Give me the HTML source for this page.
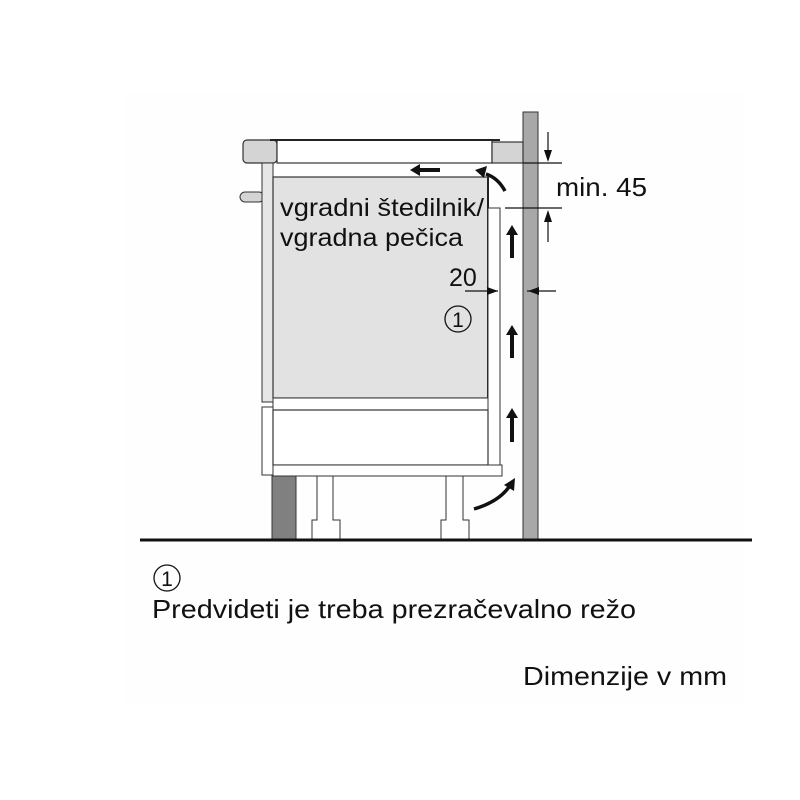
<!DOCTYPE html>
<html><head><style>body{margin:0;background:#fff}svg{display:block}</style></head><body>
<svg width="800" height="800" viewBox="0 0 800 800" xmlns="http://www.w3.org/2000/svg" font-family="Liberation Sans, Arial, sans-serif">
<rect x="125" y="92" width="620" height="610" fill="#fefefe"/>
<!-- wall -->
<rect x="523" y="112" width="15" height="428" fill="#a8a8a8" stroke="#333" stroke-width="1"/>
<!-- countertop -->
<rect x="243" y="140" width="34" height="23" rx="4" fill="#d4d4d4" stroke="#333" stroke-width="1.2"/>
<rect x="277" y="140" width="215" height="23" fill="#fff" stroke="#333" stroke-width="1.2"/>
<line x1="270" y1="140" x2="500" y2="140" stroke="#222" stroke-width="2"/>
<rect x="492" y="142" width="31" height="21" fill="#d4d4d4" stroke="#333" stroke-width="1.2"/>
<!-- knob -->
<rect x="240" y="192" width="24" height="10" rx="5" fill="#d4d4d4" stroke="#333" stroke-width="1"/>
<!-- side panels -->
<rect x="262" y="163" width="11" height="239" fill="#e6e6e6" stroke="#333" stroke-width="1"/>
<rect x="262" y="407" width="11" height="68" fill="#fff" stroke="#333" stroke-width="1"/>
<!-- oven -->
<rect x="273" y="177" width="215" height="221" fill="#e2e2e2" stroke="#333" stroke-width="1.2"/>
<line x1="488" y1="177" x2="488" y2="465" stroke="#222" stroke-width="2"/>
<!-- right strip -->
<rect x="488" y="208" width="12" height="257" fill="#fff" stroke="#333" stroke-width="1"/>
<!-- drawer -->
<rect x="273" y="398" width="215" height="12" fill="#fff" stroke="#333" stroke-width="1"/>
<rect x="273" y="410" width="215" height="55" fill="#fff" stroke="#333" stroke-width="1.2"/>
<rect x="273" y="465" width="229" height="11" fill="#fff" stroke="#333" stroke-width="1"/>
<!-- plinth -->
<rect x="272" y="476" width="24" height="64" fill="#808080" stroke="#333" stroke-width="1"/>
<!-- legs -->
<path d="M317 476V520H312V539H340V520H333V476Z" fill="#fff" stroke="#333" stroke-width="1"/>
<path d="M446 476V520H441V539H469V520H463V476Z" fill="#fff" stroke="#333" stroke-width="1"/>
<!-- floor -->
<line x1="140" y1="540" x2="752" y2="540" stroke="#111" stroke-width="3"/>
<!-- air arrows -->
<g fill="#111" stroke="none">
<path d="M420 168h20v4h-20v4l-10-6 10-6z"/>
<path d="M512 225l-6 10h4v23h4v-23h4z"/>
<path d="M512 325l-6 10h4v23h4v-23h4z"/>
<path d="M512 408l-6 10h4v24h4v-24h4z"/>
</g>
<path d="M505 191 Q498 178 486 174" fill="none" stroke="#111" stroke-width="3.5"/>
<path d="M475 170l12-4-3 12z" fill="#111"/>
<path d="M474 509 Q498 502 509 487" fill="none" stroke="#111" stroke-width="3.5"/>
<path d="M515 478l-1 13-10-6z" fill="#111"/>
<!-- dimensions -->
<g stroke="#111" stroke-width="1.2" fill="none">
<line x1="523" y1="163" x2="562" y2="163"/>
<line x1="505" y1="208" x2="562" y2="208"/>
<line x1="548" y1="132" x2="548" y2="160"/>
<line x1="548" y1="212" x2="548" y2="242"/>
<line x1="465" y1="291" x2="498" y2="291"/>
<line x1="527" y1="291" x2="556" y2="291"/>
</g>
<g fill="#111">
<path d="M544 150l4 12 4-12z"/>
<path d="M544 222l4-12 4 12z"/>
<path d="M487 287l11 4-11 4z"/>
<path d="M539 287l-11 4 11 4z"/>
</g>
<g fill="#111">
<text x="556" y="196" font-size="26" textLength="91" lengthAdjust="spacingAndGlyphs">min. 45</text>
<text x="280" y="216" font-size="25" textLength="204" lengthAdjust="spacingAndGlyphs">vgradni štedilnik/</text>
<text x="280" y="246" font-size="25" textLength="183" lengthAdjust="spacingAndGlyphs">vgradna pečica</text>
<text x="449" y="286" font-size="25">20</text>
<circle cx="458" cy="319" r="13" fill="none" stroke="#111" stroke-width="1.3"/>
<text x="458" y="327" font-size="21" text-anchor="middle">1</text>
<circle cx="167" cy="578" r="13" fill="none" stroke="#111" stroke-width="1.3"/>
<text x="167" y="586" font-size="21" text-anchor="middle">1</text>
<text x="152" y="618" font-size="26" textLength="484" lengthAdjust="spacingAndGlyphs">Predvideti je treba prezračevalno režo</text>
<text x="727" y="685" font-size="26" text-anchor="end" textLength="204" lengthAdjust="spacingAndGlyphs">Dimenzije v mm</text>
</g>
</svg>
</body></html>
